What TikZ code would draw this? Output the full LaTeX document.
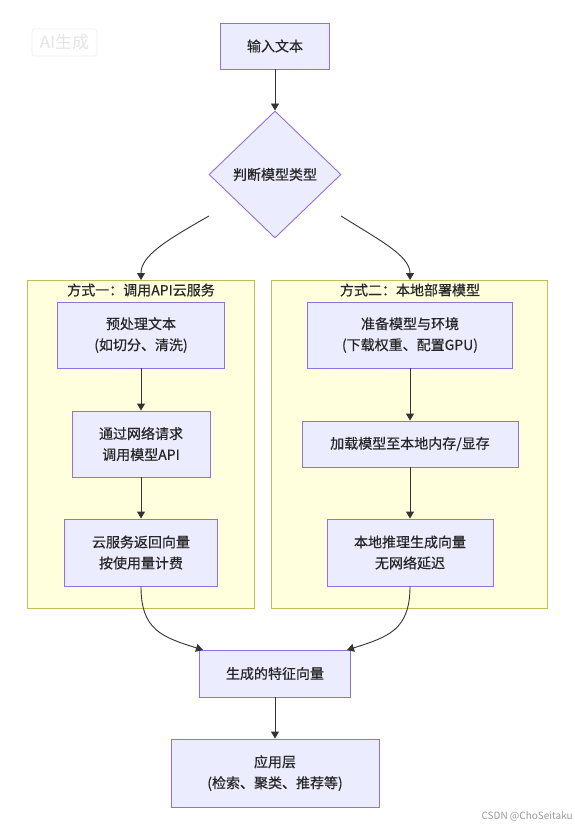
\documentclass[tikz,border=0pt]{standalone}
\usepackage{fontspec}
\setmainfont{Noto Sans CJK SC}[FakeBold=0.5]
\newfontfamily\wmfont{Noto Sans CJK SC}
\usetikzlibrary{shapes.geometric,arrows.meta}
\definecolor{nodefill}{HTML}{ECECFF}
\definecolor{nodestroke}{HTML}{9370DB}
\definecolor{clusterfill}{HTML}{FFFFDE}
\definecolor{clusterstroke}{HTML}{BFBF5A}
\definecolor{edgecol}{HTML}{333333}
\definecolor{txt}{HTML}{262626}
\tikzset{
  proc/.style={draw=nodestroke, fill=nodefill, line width=0.9pt, align=center,
    inner sep=0pt, text=txt, font=\fontsize{14}{21}\selectfont},
  grp/.style={draw=clusterstroke, fill=clusterfill, line width=0.9pt, inner sep=0pt},
  grptitle/.style={text=txt, inner sep=0pt, font=\fontsize{14}{21}\selectfont},
  edge/.style={draw=edgecol, line width=0.9pt, -{Triangle[length=7pt,width=8pt]}},
}
\begin{document}
\begin{tikzpicture}[x=1pt,y=-1pt]
\useasboundingbox[fill=white] (0,0) rectangle (574,827);

% watermark badge
\node[draw=black!6, line width=0.8pt, rounded corners=3pt, minimum width=65pt, minimum height=27pt,
  inner sep=0pt, text=black!10, font=\wmfont\fontsize{17}{17}\selectfont] (ai) at (64.5,42.5) {AI生成};

% clusters
\node[grp, minimum width=227pt, minimum height=328pt] (g1) at (140.5,444) {};
\node[grp, minimum width=276pt, minimum height=328pt] (g2) at (409,444) {};
\node[grptitle] (t1) at (141,290) {方式一：调用API云服务};
\node[grptitle] (t2) at (410,290) {方式二：本地部署模型};

% nodes
\node[proc, minimum width=109pt, minimum height=46pt] (input) at (275,46) {输入文本};
\node[proc, diamond, aspect=1.04, minimum width=132pt, minimum height=127pt] (judge) at (275,174.5) {判断模型类型};

\node[proc, minimum width=167pt, minimum height=66pt] (L1) at (141,335) {预处理文本\\(如切分、清洗)};
\node[proc, minimum width=138pt, minimum height=66pt] (L2) at (141,444) {通过网络请求\\调用模型API};
\node[proc, minimum width=153pt, minimum height=67pt] (L3) at (141,552.5) {云服务返回向量\\按使用量计费};

\node[proc, minimum width=205pt, minimum height=66pt] (R1) at (410,335) {准备模型与环境\\(下载权重、配置GPU)};
\node[proc, minimum width=216pt, minimum height=46pt] (R2) at (410,444) {加载模型至本地内存/显存};
\node[proc, minimum width=166pt, minimum height=67pt] (R3) at (410,552.5) {本地推理生成向量\\无网络延迟};

\node[proc, minimum width=151pt, minimum height=47pt] (F) at (275,673.5) {生成的特征向量};
\node[proc, minimum width=208pt, minimum height=68pt] (A) at (275,773) {应用层\\(检索、聚类、推荐等)};

\node[anchor=east, inner sep=0pt, text=black!40, font=\wmfont\fontsize{10}{12}\selectfont] (wm) at (573,816) {CSDN @ChoSeitaku};

% connector end points
\coordinate (jl) at (209,216);
\coordinate (jr) at (341,216);
\coordinate (g1in) at (141,280);
\coordinate (g2in) at (410,280);
\coordinate (fl) at (203,650);
\coordinate (fr) at (347,650);

% edges
\draw[edge] (input) -- (judge);
\draw[edge] (jl) .. controls (165,241) and (141,256) .. (g1in);
\draw[edge] (jr) .. controls (381,241) and (410,256) .. (g2in);
\draw[edge] (L1) -- (L2);
\draw[edge] (L2) -- (L3);
\draw[edge] (R1) -- (R2);
\draw[edge] (R2) -- (R3);
\draw[edge] (L3.south) .. controls (141,630) and (162,637) .. (fl);
\draw[edge] (R3.south) .. controls (410,630) and (388,637) .. (fr);
\draw[edge] (F) -- (A);
\end{tikzpicture}
\end{document}
